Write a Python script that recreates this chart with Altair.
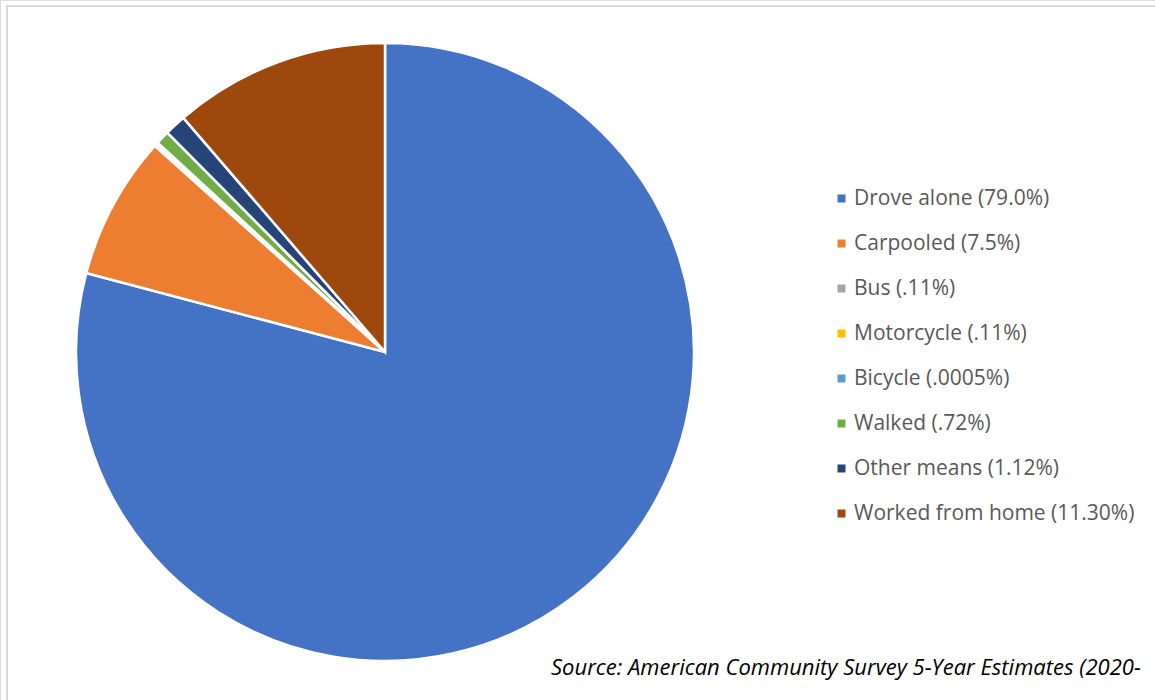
import altair as alt
import pandas as pd

categories = ["Drove alone (79.0%)", "Carpooled (7.5%)", "Bus (.11%)", "Motorcycle (.11%)",
              "Bicycle (.0005%)", "Walked (.72%)", "Other means (1.12%)", "Worked from home (11.30%)"]
values = [79.0, 7.5, 0.11, 0.11, 0.0005, 0.72, 1.12, 11.30]
colors = ["#4472C4", "#ED7D31", "#A5A5A5", "#FFC000", "#5B9BD5", "#70AD47", "#264478", "#9E480E"]
source_text = ["Source: American Community Survey 5-Year Estimates (2020-"]

df = pd.DataFrame({"mode": categories, "value": values, "order": list(range(len(values)))})

pie = alt.Chart(df).mark_arc(outerRadius=309, stroke="white", strokeWidth=2.5).encode(
    theta=alt.Theta("value:Q", stack=True),
    order=alt.Order("order:Q"),
    color=alt.Color("mode:N", sort=categories,
                    scale=alt.Scale(domain=categories, range=colors),
                    legend=alt.Legend(title=None, orient="none", legendX=831, legendY=188,
                                      symbolType="square", symbolSize=64, symbolStrokeWidth=0,
                                      labelFont="Open Sans", labelFontSize=21, labelColor="#595959",
                                      rowPadding=23, labelOffset=2, labelLimit=400)),
    x=alt.value(385),
    y=alt.value(352),
)

border_top = alt.Chart(pd.DataFrame({"a": [0]})).mark_rule(color="#d9d9d9", strokeWidth=2).encode(
    x=alt.value(6), x2=alt.value(1155), y=alt.value(6))
border_left = alt.Chart(pd.DataFrame({"a": [0]})).mark_rule(color="#d9d9d9", strokeWidth=2).encode(
    x=alt.value(7), y=alt.value(5), y2=alt.value(700))

src = alt.Chart(pd.DataFrame({"t": source_text})).mark_text(
    font="Open Sans", fontSize=22, fontStyle="italic", align="left", baseline="middle", color="#000000"
).encode(text="t:N", x=alt.value(551), y=alt.value(668))

chart = alt.layer(border_top, border_left, pie, src).properties(
    width=1155, height=700, padding=0, autosize=alt.AutoSizeParams(type="none")
).configure_view(stroke=None).configure(background="white")

chart.save("out.html", embed_options={"renderer": "svg", "actions": False})
